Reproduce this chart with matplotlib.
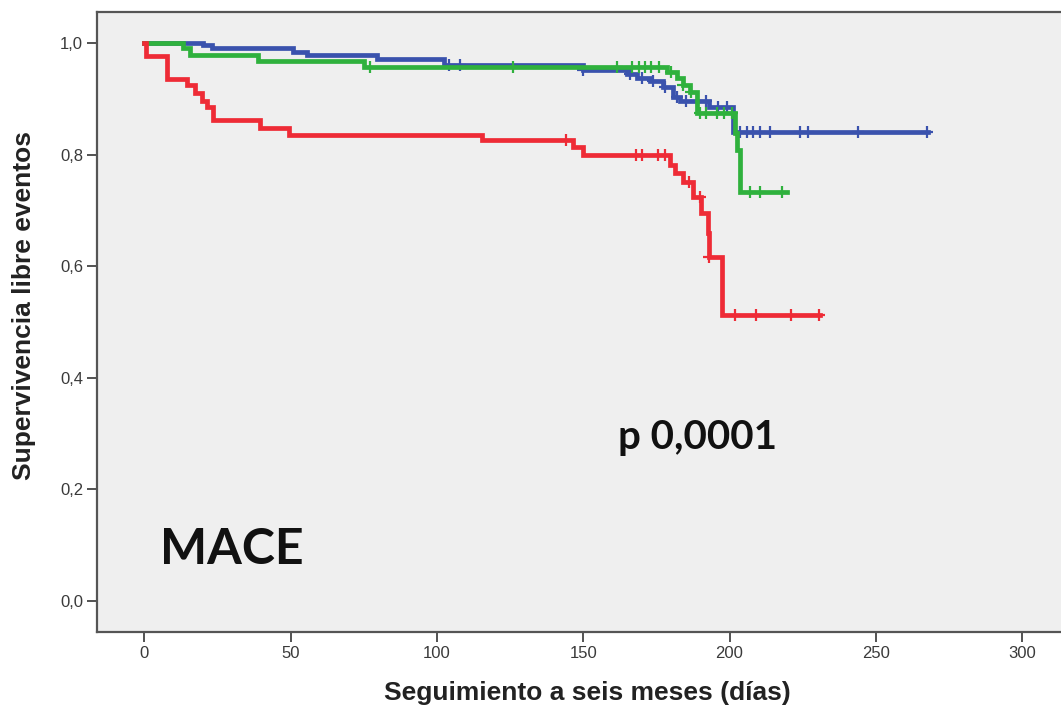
import numpy as np
import matplotlib
matplotlib.use('Agg')
from matplotlib import pyplot as plt

# Kaplan-Meier steps: drop times (days) and survival after each drop
blue_t = [0, 20, 23, 50.8, 55.6, 79.5, 102.4, 149.9, 164.9, 168.4, 172.8, 177.3, 180.7, 183.1, 193, 201.2]
blue_s = [1.0, 0.996, 0.991, 0.984, 0.978, 0.971, 0.960, 0.952, 0.945, 0.938, 0.932, 0.921, 0.903, 0.896, 0.886, 0.841]
blue_end = 267.9
blue_cens = [104, 108, 150, 166, 170, 174, 178, 182, 185, 189, 192, 196, 199, 203.6, 206, 208,
             210.4, 213.8, 224, 226.8, 244, 267.5]

green_t = [0, 13.2, 15.6, 38.8, 75, 178.6, 182, 184, 186.5, 188.9, 201.9, 202.6, 203.6]
green_s = [1.0, 0.991, 0.978, 0.968, 0.958, 0.948, 0.937, 0.925, 0.912, 0.874, 0.838, 0.808, 0.733]
green_end = 219.7
green_cens = [77, 126, 161.5, 166.7, 169, 171, 173, 176, 180, 184, 187, 190, 192, 195.7, 198,
              200.9, 207, 210.4, 218]

red_t = [0, 0.6, 7.8, 14.4, 17.3, 19.6, 21.3, 23.5, 39.5, 49.4, 115.3, 146.5, 149.9, 179.7,
         181.4, 184.1, 187.5, 190.3, 192.6, 192.9, 197.4]
red_s = [1.0, 0.977, 0.935, 0.925, 0.91, 0.897, 0.886, 0.862, 0.848, 0.836, 0.826, 0.814, 0.80,
         0.781, 0.767, 0.751, 0.724, 0.695, 0.66, 0.617, 0.513]
red_end = 230.9
red_cens = [144, 168, 170, 175.5, 178, 186, 190, 193, 202, 209, 221, 230.5]

groups = [
    (blue_t, blue_s, blue_end, blue_cens, '#3a52ad'),
    (green_t, green_s, green_end, green_cens, '#2fb13d'),
    (red_t, red_s, red_end, red_cens, '#ee2b36'),
]

xticks = [0, 50, 100, 150, 200, 250, 300]
yticks = [0.0, 0.2, 0.4, 0.6, 0.8, 1.0]

fig = plt.figure(figsize=(10.61, 7.11), dpi=100)
ax = fig.add_axes([0.0914, 0.111, 0.9086, 0.872])
ax.set_facecolor('#efefef')

for t, s, end, cens, col in groups:
    tt = np.array(t + [end])
    ss = np.array(s + [s[-1]])
    ax.step(tt, ss, where='post', color=col, lw=3.4, solid_joinstyle='miter')
    c = np.array(cens)
    cy = np.array(s)[np.searchsorted(np.array(t), c, side='right') - 1]
    ax.plot(c, cy, ls='none', marker='+', ms=8, mew=1.6, color=col)

ax.set_xlim(-16.2, 313.3)
ax.set_ylim(-0.0556, 1.0556)
ax.set_xticks(xticks)
ax.set_xticklabels([str(v) for v in xticks])
ax.set_yticks(yticks)
ax.set_yticklabels([('%.1f' % v).replace('.', ',') for v in yticks])

for side in ['left', 'bottom', 'top']:
    ax.spines[side].set_color('#555555')
    ax.spines[side].set_linewidth(1.6)
ax.spines['right'].set_visible(False)
ax.tick_params(direction='out', length=7, width=1.3, color='#444444',
               labelsize=12, labelcolor='#3a3a3a', pad=3)
for lab in ax.get_xticklabels() + ax.get_yticklabels():
    lab.set_family('Liberation Sans')

ax.set_xlabel('Seguimiento a seis meses (días)', family='Liberation Sans', weight='bold',
              fontsize=19, color='#222222')
ax.set_ylabel('Supervivencia libre eventos', family='Liberation Sans', weight='bold',
              fontsize=19, color='#222222')
ax.xaxis.set_label_coords(0.509, -0.079)
ax.yaxis.set_label_coords(-0.063, 0.527)

fig.text(0.5825, 0.385, 'p 0,0001', family='Lato', weight='bold',
         fontsize=29, color='#111111', va='center', ha='left')
fig.text(0.1508, 0.2265, 'MACE', family='Lato', weight='bold',
         fontsize=36, color='#111111', va='center', ha='left')

fig.savefig('out.png', dpi=100)
